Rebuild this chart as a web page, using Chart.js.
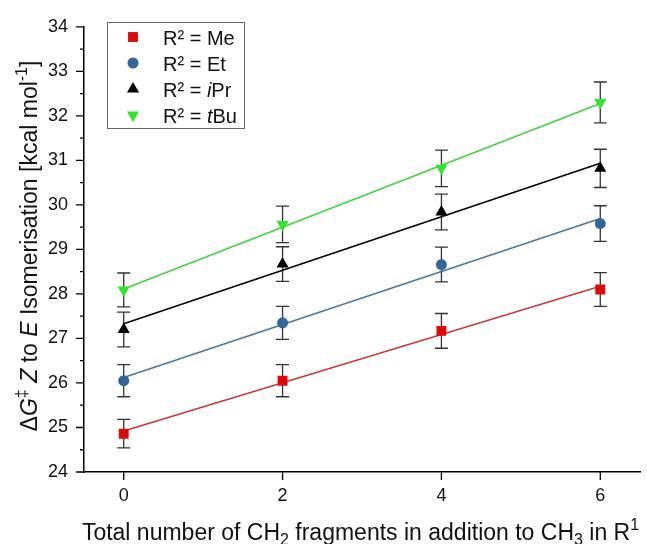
<!DOCTYPE html>
<html>
<head>
<meta charset="utf-8">
<script src="https://cdn.jsdelivr.net/npm/chart.js@4.4.0/dist/chart.umd.min.js"></script>
<style>
  html, body { margin: 0; padding: 0; background: #fff; }
  #wrap { width: 647px; height: 544px; }
</style>
</head>
<body>
<div id="wrap"><canvas id="isoChart" width="647" height="544"></canvas></div>
<script>
// values
const xValues = [0, 2, 4, 6];
const meValues = [24.86, 26.05, 27.17, 28.10];
const meErrors = [0.32, 0.36, 0.39, 0.38];
const etValues = [26.05, 27.35, 28.66, 29.58];
const etErrors = [0.36, 0.37, 0.39, 0.40];
const iprValues = [27.20, 28.67, 29.84, 30.82];
const iprErrors = [0.39, 0.39, 0.40, 0.43];
const tbuValues = [28.09, 29.56, 30.82, 32.30];
const tbuErrors = [0.38, 0.41, 0.41, 0.46];
const xTicks = [0, 2, 4, 6];
const yTicks = [24, 25, 26, 27, 28, 29, 30, 31, 32, 33, 34];

const FONT = "'Liberation Sans', Arial, sans-serif";

const series = [
    { label: [{ t: 'R² = Me' }], values: meValues, errors: meErrors,
      style: 'rect', rotation: 0, radius: 7, marker: '#dd0a0a', line: '#c83a3a' },
    { label: [{ t: 'R² = Et' }], values: etValues, errors: etErrors,
      style: 'circle', rotation: 0, radius: 5.5, marker: '#336699', line: '#4d7598' },
    { label: [{ t: 'R² = ' }, { t: 'i', it: true }, { t: 'Pr' }], values: iprValues, errors: iprErrors,
      style: 'triangle', rotation: 0, radius: 7, marker: '#000000', line: '#000000' },
    { label: [{ t: 'R² = ' }, { t: 't', it: true }, { t: 'Bu' }], values: tbuValues, errors: tbuErrors,
      style: 'triangle', rotation: 180, radius: 7, marker: '#2ee62e', line: '#45d045' }
];

// least squares fit, drawn from x min to x max
function fitLine(ys) {
    const n = xValues.length;
    const mx = xValues.reduce((a, b) => a + b, 0) / n;
    const my = ys.reduce((a, b) => a + b, 0) / n;
    let sxy = 0, sxx = 0;
    for (let i = 0; i < n; i++) {
        sxy += (xValues[i] - mx) * (ys[i] - my);
        sxx += (xValues[i] - mx) * (xValues[i] - mx);
    }
    const m = sxy / sxx;
    const b = my - m * mx;
    const x0 = Math.min(...xValues), x1 = Math.max(...xValues);
    return [{ x: x0, y: b + m * x0 }, { x: x1, y: b + m * x1 }];
}

const pointSets = series.map(s => ({
    data: xValues.map((x, i) => ({ x: x, y: s.values[i] })),
    showLine: false,
    pointStyle: s.style,
    rotation: s.rotation,
    pointRadius: s.radius,
    pointBackgroundColor: s.marker,
    pointBorderColor: s.marker,
    pointBorderWidth: 0
}));

const lineSets = series.map(s => ({
    data: fitLine(s.values),
    showLine: true,
    borderColor: s.line,
    borderWidth: 1.6,
    pointRadius: 0
}));

// mixed italic / superscript / subscript text
function richFont(p, size) {
    const sz = (p.sup || p.sub) ? Math.round(size * 0.68) : size;
    return (p.it ? 'italic ' : '') + sz + 'px ' + FONT;
}
function richWidth(ctx, parts, size) {
    let w = 0;
    parts.forEach(p => { ctx.font = richFont(p, size); w += ctx.measureText(p.t).width; });
    return w;
}
function drawRich(ctx, parts, x, y, size) {
    // x = left edge, y = alphabetic baseline
    ctx.textBaseline = 'alphabetic';
    ctx.textAlign = 'left';
    parts.forEach(p => {
        ctx.font = richFont(p, size);
        let dy = 0;
        if (p.sup) dy = -size * 0.42;
        if (p.sub) dy = size * 0.22;
        ctx.fillText(p.t, x, y + dy);
        x += ctx.measureText(p.t).width;
    });
}

const yTitle = [{ t: 'Δ' }, { t: 'G', it: true }, { t: '‡', sup: true }, { t: ' ' }, { t: 'Z', it: true },
    { t: ' to ' }, { t: 'E', it: true }, { t: ' Isomerisation [kcal mol' }, { t: '-1', sup: true }, { t: ']' }];
const xTitle = [{ t: 'Total number of CH' }, { t: '2', sub: true }, { t: ' fragments in addition to CH' },
    { t: '3', sub: true }, { t: ' in R' }, { t: '1', sup: true }];

const errorBars = {
    id: 'errorBars',
    beforeDatasetsDraw(chart) {
        const { ctx, scales: { x, y } } = chart;
        ctx.save();
        ctx.strokeStyle = '#333';
        ctx.lineWidth = 1.3;
        series.forEach(s => {
            xValues.forEach((xv, i) => {
                const px = x.getPixelForValue(xv);
                const top = y.getPixelForValue(s.values[i] + s.errors[i]);
                const bot = y.getPixelForValue(s.values[i] - s.errors[i]);
                ctx.beginPath();
                ctx.moveTo(px, top); ctx.lineTo(px, bot);
                ctx.moveTo(px - 6.5, top); ctx.lineTo(px + 6.5, top);
                ctx.moveTo(px - 6.5, bot); ctx.lineTo(px + 6.5, bot);
                ctx.stroke();
            });
        });
        ctx.restore();
    }
};

const decorations = {
    id: 'decorations',
    afterDraw(chart) {
        const { ctx, chartArea: a, scales: { x, y } } = chart;
        ctx.save();
        ctx.strokeStyle = '#000';
        ctx.lineWidth = 1.3;
        ctx.beginPath();
        yTicks.forEach((v, i) => {
            const py = y.getPixelForValue(v);
            ctx.moveTo(a.left - 8, py); ctx.lineTo(a.left, py);
            if (i < yTicks.length - 1) {
                const pm = y.getPixelForValue((v + yTicks[i + 1]) / 2);
                ctx.moveTo(a.left - 4, pm); ctx.lineTo(a.left, pm);
            }
        });
        xTicks.forEach(v => {
            const px = x.getPixelForValue(v);
            ctx.moveTo(px, a.bottom); ctx.lineTo(px, a.bottom + 8);
        });
        ctx.stroke();

        // axis titles
        ctx.fillStyle = '#111';
        const tsize = 23;
        const xw = richWidth(ctx, xTitle, tsize);
        drawRich(ctx, xTitle, 360.5 - xw / 2, 540, tsize);

        ctx.save();
        ctx.translate(37, 246);
        ctx.rotate(-Math.PI / 2);
        const yw = richWidth(ctx, yTitle, tsize);
        drawRich(ctx, yTitle, -yw / 2, 0, tsize);
        ctx.restore();

        // legend box
        const bx = 107, by = 22, bw = 137, bh = 106;
        ctx.strokeStyle = '#666';
        ctx.lineWidth = 1;
        ctx.strokeRect(bx + 0.5, by + 0.5, bw, bh);
        series.forEach((s, i) => {
            const cy = by + 15 + i * 26;
            const cx = bx + 26;
            ctx.fillStyle = s.marker;
            ctx.beginPath();
            const r = s.radius;
            if (s.style === 'rect') {
                const h = r * Math.SQRT1_2;
                ctx.rect(cx - h, cy - h, 2 * h, 2 * h);
            } else if (s.style === 'circle') {
                ctx.arc(cx, cy, r, 0, Math.PI * 2);
            } else {
                const dir = s.rotation ? -1 : 1;
                ctx.moveTo(cx, cy - dir * r);
                ctx.lineTo(cx - r * 0.866, cy + dir * r / 2);
                ctx.lineTo(cx + r * 0.866, cy + dir * r / 2);
                ctx.closePath();
            }
            ctx.fill();
            ctx.fillStyle = '#111';
            drawRich(ctx, s.label, bx + 56, cy + 7.5, 20);
        });
        ctx.restore();
    }
};

new Chart(document.getElementById('isoChart').getContext('2d'), {
    type: 'scatter',
    data: { datasets: pointSets.concat(lineSets) },
    options: {
        responsive: false,
        animation: false,
        devicePixelRatio: 1,
        layout: { padding: { top: 24, right: 5, bottom: 0, left: 0 } },
        plugins: { legend: { display: false }, tooltip: { enabled: false } },
        scales: {
            x: {
                type: 'linear',
                min: -0.5,
                max: 6.5,
                afterBuildTicks: s => { s.ticks = xTicks.map(v => ({ value: v })); },
                afterFit: s => { s.height = 72; },
                grid: { display: false, drawTicks: false },
                border: { display: true, color: '#000', width: 1.5 },
                ticks: { padding: 13, color: '#111', font: { family: FONT, size: 18 } }
            },
            y: {
                min: 24,
                max: 34,
                afterBuildTicks: s => { s.ticks = yTicks.map(v => ({ value: v })); },
                afterFit: s => { s.width = 84; },
                grid: { display: false, drawTicks: false },
                border: { display: true, color: '#000', width: 1.5 },
                ticks: { padding: 16, color: '#111', font: { family: FONT, size: 18 } }
            }
        }
    },
    plugins: [errorBars, decorations]
});
</script>
</body>
</html>
